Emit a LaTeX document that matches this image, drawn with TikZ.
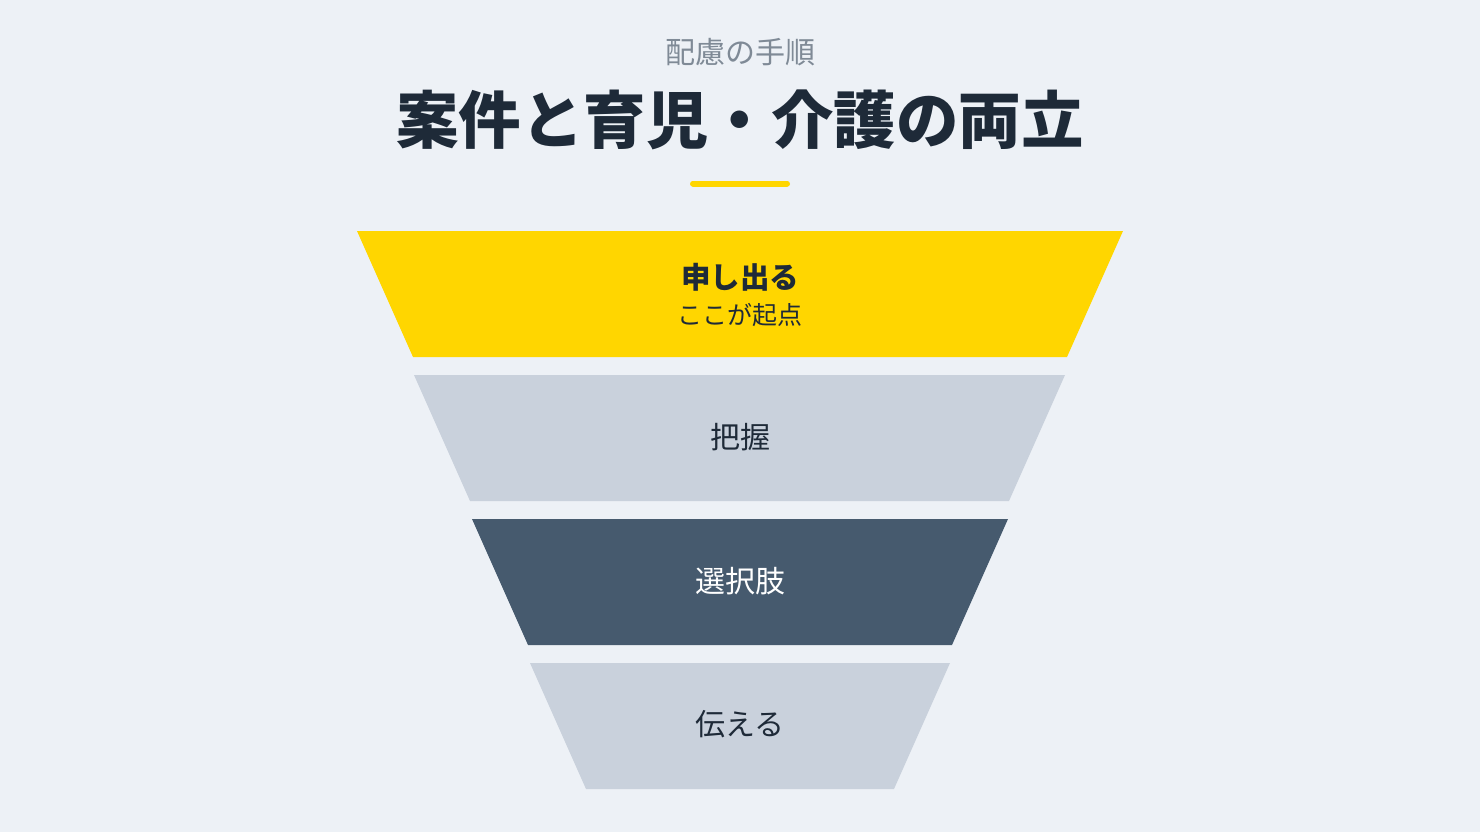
\documentclass[tikz,border=0pt]{standalone}
\usepackage{fontspec}
\setmainfont{Noto Sans CJK JP}
\usepackage{tikz}
\definecolor{bgcol}{HTML}{EDF1F6}
\definecolor{yellowcol}{HTML}{FFD600}
\definecolor{graycol}{HTML}{C9D1DC}
\definecolor{darkcol}{HTML}{465A6E}
\definecolor{inkcol}{HTML}{1E2A38}
\definecolor{subcol}{HTML}{7F8A96}
\tikzstyle{label} = [inner sep=0pt, font=\fontsize{30}{34}\selectfont, text=inkcol]
\tikzstyle{sub} = [inner sep=0pt, font=\fontsize{25}{29}\selectfont, text=inkcol]

\begin{document}
\begin{tikzpicture}[x=1pt, y=-1pt]
    \fill[bgcol] (0,0) rectangle (1480,832);

    \node (kicker) [inner sep=0pt, font=\fontsize{30}{34}\selectfont, text=subcol] at (740,52) {配慮の手順};
    \node (title) [inner sep=0pt, font=\fontsize{62.5}{68}\selectfont\bfseries, text=inkcol] at (740,120) {案件と育児・介護の両立};
    \draw[yellowcol, line width=6pt, line cap=round] (693,183.5) -- (787,183.5);

    % funnel
    \fill[yellowcol] (357,231) -- (1123,231) -- (1067,357) -- (413,357) -- cycle;
    \fill[graycol] (414,375) -- (1065,375) -- (1009,501) -- (470,501) -- cycle;
    \fill[darkcol] (472,519) -- (1008,519) -- (952,645) -- (528,645) -- cycle;
    \fill[graycol] (530,663) -- (950,663) -- (894,789) -- (586,789) -- cycle;

    \node (1) [label, font=\fontsize{29.5}{34}\selectfont\bfseries] at (740,277) {申し出る};
    \node (1s) [sub] at (740,315) {ここが起点};
    \node (2) [label] at (740,437) {把握};
    \node (3) [label, text=white] at (740,581) {選択肢};
    \node (4) [label] at (740,724) {伝える};
\end{tikzpicture}
\end{document}
